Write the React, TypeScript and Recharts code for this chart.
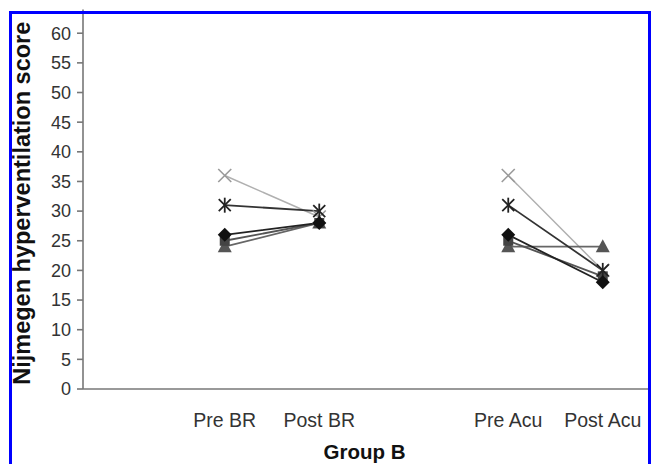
import React from "react";
import { LineChart, Line, XAxis, YAxis } from "recharts";

const categories = ["", "Pre BR", "Post BR", " ", "Pre Acu", "Post Acu"];
const diamondSeries = [null, 26, 28, null, 26, 18];
const squareSeries = [null, 25, 28, null, 25, 19];
const triangleSeries = [null, 24, 28, null, 24, 24];
const crossSeries = [null, 36, 29, null, 36, 20];
const starSeries = [null, 31, 30, null, 31, 20];
const yTicks = [0, 5, 10, 15, 20, 25, 30, 35, 40, 45, 50, 55, 60];

const rows = categories.map((cat, i) => ({
  cat,
  diamond: diamondSeries[i],
  square: squareSeries[i],
  triangle: triangleSeries[i],
  cross: crossSeries[i],
  star: starSeries[i],
}));

const FONT = "'Liberation Sans', Arial, sans-serif";

const ok = (p: any) => p && p.cx != null && p.cy != null && p.value != null && !Number.isNaN(p.cy);

const Diamond = (p: any) => {
  if (!ok(p)) return <g key={p.key} />;
  const { cx, cy } = p;
  return (
    <polygon key={p.key} points={`${cx},${cy - 7} ${cx + 7},${cy} ${cx},${cy + 7} ${cx - 7},${cy}`} fill="#111" />
  );
};
const Square = (p: any) => {
  if (!ok(p)) return <g key={p.key} />;
  const { cx, cy } = p;
  return <rect key={p.key} x={cx - 5} y={cy - 5} width={10} height={10} fill="#444" />;
};
const Triangle = (p: any) => {
  if (!ok(p)) return <g key={p.key} />;
  const { cx, cy } = p;
  return (
    <polygon key={p.key} points={`${cx},${cy - 7.5} ${cx + 7},${cy + 5.5} ${cx - 7},${cy + 5.5}`} fill="#555" />
  );
};
const Cross = (p: any) => {
  if (!ok(p)) return <g key={p.key} />;
  const { cx, cy } = p;
  return (
    <g key={p.key} stroke="#9a9a9a" strokeWidth={1.6}>
      <line x1={cx - 6.5} y1={cy - 6.5} x2={cx + 6.5} y2={cy + 6.5} />
      <line x1={cx - 6.5} y1={cy + 6.5} x2={cx + 6.5} y2={cy - 6.5} />
    </g>
  );
};
const Star = (p: any) => {
  if (!ok(p)) return <g key={p.key} />;
  const { cx, cy } = p;
  return (
    <g key={p.key} stroke="#222" strokeWidth={1.8}>
      <line x1={cx - 6} y1={cy - 6} x2={cx + 6} y2={cy + 6} />
      <line x1={cx - 6} y1={cy + 6} x2={cx + 6} y2={cy - 6} />
      <line x1={cx} y1={cy - 7.5} x2={cx} y2={cy + 7.5} />
    </g>
  );
};

const YTitle = (props: any) => {
  const vb = props.viewBox || { x: 0, y: 0, width: 75, height: 380 };
  const x = vb.x + 14;
  const y = vb.y + vb.height / 2 + 4;
  return (
    <text
      x={x}
      y={y}
      transform={`rotate(-90 ${x} ${y})`}
      textAnchor="middle"
      dominantBaseline="central"
      fontFamily={FONT}
      fontWeight="bold"
      fontSize={23.5}
      fill="#111"
    >
      Nijmegen hyperventilation score
    </text>
  );
};

const XTitle = (props: any) => {
  const vb = props.viewBox || { x: 75, y: 381, width: 567, height: 75 };
  const x = vb.x + vb.width / 2 - 2;
  const y = vb.y + 62;
  return (
    <text x={x} y={y} textAnchor="middle" dominantBaseline="central" fontFamily={FONT} fontWeight="bold" fontSize={20.5} fill="#111">
      Group B
    </text>
  );
};

export default function App() {
  return (
    <div style={{ position: "fixed", left: 8, top: 8, width: 644, height: 456, overflow: "hidden", background: "#fff" }}>
      <LineChart width={644} height={456} data={rows} margin={{ top: 1.5, right: 2, left: 0, bottom: 0 }}>
        <XAxis
          dataKey="cat"
          type="category"
          allowDuplicatedCategory={true}
          padding={{ left: 47.25, right: 47.25 }}
          height={75}
          stroke="#777"
          strokeWidth={1.6}
          tickLine={false}
          tickMargin={18}
          interval={0}
          tick={{ fontFamily: FONT, fontSize: 19.5, fill: "#333" }}
          label={<XTitle />}
        />
        <YAxis
          type="number"
          domain={[0, 64]}
          ticks={yTicks}
          interval={0}
          width={75}
          stroke="#777"
          strokeWidth={1.6}
          tickSize={6}
          tickMargin={6}
          tick={{ fontFamily: FONT, fontSize: 18, fill: "#333" }}
          label={<YTitle />}
        />
        <Line dataKey="cross" stroke="#b0b0b0" strokeWidth={1.5} dot={Cross} activeDot={false} isAnimationActive={false} connectNulls={false} />
        <Line dataKey="triangle" stroke="#666" strokeWidth={1.8} dot={Triangle} activeDot={false} isAnimationActive={false} connectNulls={false} />
        <Line dataKey="square" stroke="#555" strokeWidth={1.8} dot={Square} activeDot={false} isAnimationActive={false} connectNulls={false} />
        <Line dataKey="star" stroke="#333" strokeWidth={1.8} dot={Star} activeDot={false} isAnimationActive={false} connectNulls={false} />
        <Line dataKey="diamond" stroke="#222" strokeWidth={1.8} dot={Diamond} activeDot={false} isAnimationActive={false} connectNulls={false} />
      </LineChart>
      <div
        style={{
          position: "absolute",
          left: 1,
          top: 3,
          width: 642,
          height: 480,
          boxSizing: "border-box",
          border: "3px solid #0000ff",
          pointerEvents: "none",
        }}
      />
    </div>
  );
}
